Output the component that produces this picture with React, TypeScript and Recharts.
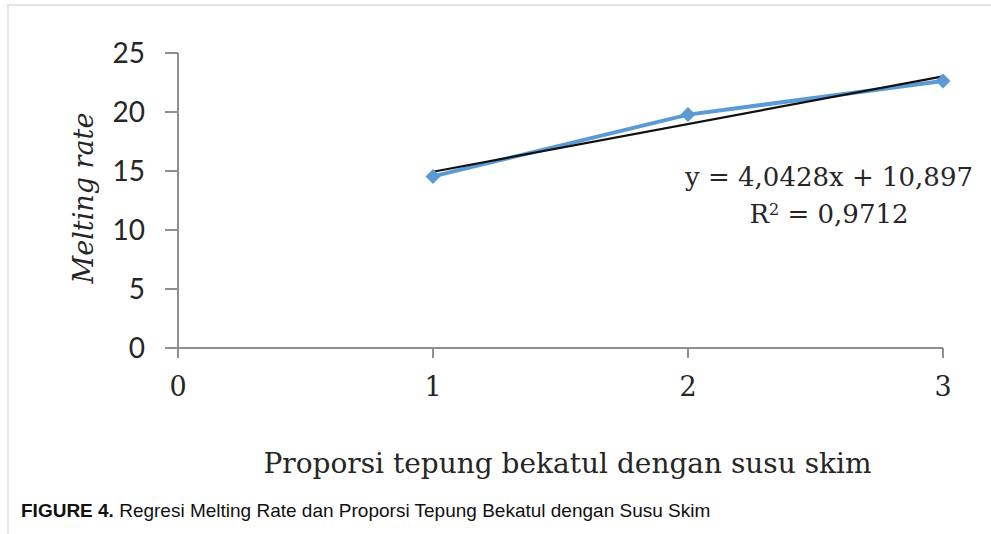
import React from "react";
import { ComposedChart, Line, XAxis, YAxis } from "recharts";

// Proportion of rice bran flour to skim milk (x) vs. melting rate (y)
const proportions = [1, 2, 3];
const meltingRates = [14.54, 19.78, 22.62];

// Linear regression reported for the series
const slope = 4.0428;
const intercept = 10.897;
const rSquared = 0.9712;
const trendRange = [1, 3];

const xTicks = [0, 1, 2, 3];
const yTicks = [0, 5, 10, 15, 20, 25];

const observed = proportions.map((x, i) => ({ x, y: meltingRates[i] }));
const trend = trendRange.map((x) => ({ x, t: slope * x + intercept }));

const fmt = (v: number, digits: number) => v.toFixed(digits).replace(".", ",");

const axisColor = "#8f8f8f";
const serif = "'DejaVu Serif', serif";

const Diamond = (props: any) => {
  const { cx, cy } = props;
  if (cx == null || cy == null) return null;
  const r = 7.5;
  return (
    <path
      d={`M${cx},${cy - r} L${cx + r},${cy} L${cx},${cy + r} L${cx - r},${cy} Z`}
      fill="#5b9bd5"
      stroke="none"
    />
  );
};

const XLabel = (props: any) => {
  const vb = props.viewBox || {};
  return (
    <text
      x={vb.x + vb.width / 2 + 7}
      y={vb.y + 125}
      textAnchor="middle"
      fontFamily={serif}
      fontSize={28}
      fill="#262626"
    >
      Proporsi tepung bekatul dengan susu skim
    </text>
  );
};

const YLabel = (props: any) => {
  const vb = props.viewBox || {};
  const cx = 93;
  const cy = vb.y + 145;
  return (
    <text
      x={cx}
      y={cy}
      transform={`rotate(-90, ${cx}, ${cy})`}
      textAnchor="middle"
      fontFamily={serif}
      fontStyle="italic"
      fontSize={27}
      fill="#262626"
    >
      Melting rate
    </text>
  );
};

export default function App() {
  return (
    <div style={{ position: "absolute", left: 0, top: 0, width: 991, height: 534, background: "#fff" }}>
      <div
        style={{
          position: "absolute",
          left: 7,
          top: 4,
          width: 984,
          height: 530,
          borderTop: "2px solid #e4e4e4",
          borderLeft: "2px solid #e4e4e4",
          boxSizing: "border-box",
        }}
      />
      <div style={{ position: "absolute", left: 0, top: 0 }}>
        <ComposedChart
          width={991}
          height={480}
          margin={{ top: 53, right: 48, left: 108, bottom: 72 }}
        >
          <XAxis
            type="number"
            dataKey="x"
            domain={[0, 3]}
            ticks={xTicks}
            interval={0}
            height={60}
            stroke={axisColor}
            strokeWidth={2}
            tickSize={10}
            tickMargin={19}
            tick={{ fill: "#262626", fontFamily: serif, fontSize: 27 }}
            tickLine={{ stroke: axisColor, strokeWidth: 2 }}
            label={<XLabel />}
          />
          <YAxis
            type="number"
            domain={[0, 25]}
            ticks={yTicks}
            interval={0}
            width={70}
            stroke={axisColor}
            strokeWidth={2}
            tickSize={13}
            tickMargin={20}
            tick={{ fill: "#262626", fontFamily: "Lato, sans-serif", fontSize: 28 }}
            tickLine={{ stroke: axisColor, strokeWidth: 2 }}
            label={<YLabel />}
          />
          <Line
            data={observed}
            dataKey="y"
            stroke="#5b9bd5"
            strokeWidth={4}
            dot={<Diamond />}
            activeDot={false}
            isAnimationActive={false}
          />
          <Line
            data={trend}
            dataKey="t"
            stroke="#111"
            strokeWidth={2.2}
            dot={false}
            activeDot={false}
            isAnimationActive={false}
          />
        </ComposedChart>
      </div>
      <div
        style={{
          position: "absolute",
          left: 676,
          top: 159,
          width: 306,
          fontFamily: serif,
          fontSize: 26,
          lineHeight: "37px",
          color: "#262626",
          textAlign: "center",
          whiteSpace: "nowrap",
        }}
      >
        <div>{`y = ${fmt(slope, 4)}x + ${fmt(intercept, 3)}`}</div>
        <div>
          R<sup style={{ fontSize: 16, verticalAlign: "top", lineHeight: "28px" }}>2</sup>
          {` = ${fmt(rSquared, 4)}`}
        </div>
      </div>
      <div
        style={{
          position: "absolute",
          left: 21,
          top: 500,
          fontFamily: "'Liberation Sans', Arial, sans-serif",
          fontSize: 19,
          lineHeight: "22px",
          color: "#111",
          whiteSpace: "nowrap",
        }}
      >
        <b>FIGURE 4.</b> Regresi Melting Rate dan Proporsi Tepung Bekatul dengan Susu Skim
      </div>
    </div>
  );
}
